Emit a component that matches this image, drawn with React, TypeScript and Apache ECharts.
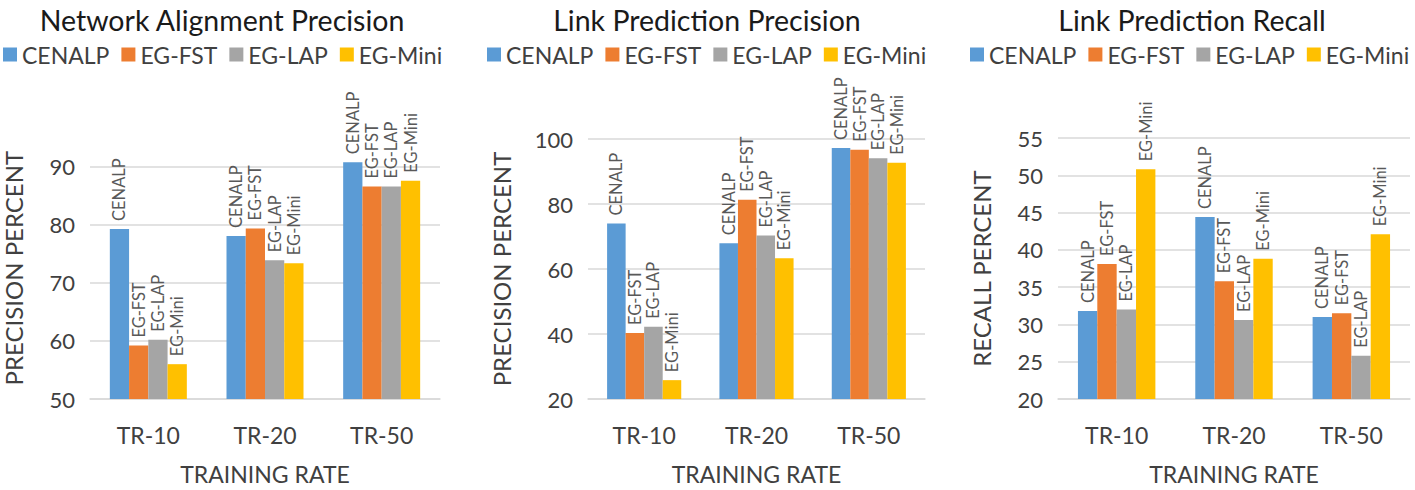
import React, { useEffect, useRef } from "react";
import * as echarts from "echarts";

const categories = ["TR-10", "TR-20", "TR-50"];
const seriesNames = ["CENALP", "EG-FST", "EG-LAP", "EG-Mini"];
const colors = ["#5B9BD5", "#ED7D31", "#A5A5A5", "#FFC000"];

const titles = ["Network Alignment Precision", "Link Prediction Precision", "Link Prediction Recall"];
const yNames = ["PRECISION PERCENT", "PRECISION PERCENT", "RECALL PERCENT"];
const xName = "TRAINING RATE";

// Network Alignment Precision
const alignCenalp = [79.3, 78.1, 90.8];
const alignFst = [59.2, 79.4, 86.6];
const alignLap = [60.2, 73.9, 86.6];
const alignMini = [56.0, 73.4, 87.6];

// Link Prediction Precision
const precCenalp = [74.0, 67.9, 97.2];
const precFst = [40.3, 81.3, 96.7];
const precLap = [42.2, 70.3, 94.1];
const precMini = [25.8, 63.3, 92.7];

// Link Prediction Recall
const recCenalp = [31.8, 44.4, 31.0];
const recFst = [38.1, 35.8, 31.5];
const recLap = [32.0, 30.6, 25.8];
const recMini = [50.8, 38.8, 42.1];

const panelData = [
  [alignCenalp, alignFst, alignLap, alignMini],
  [precCenalp, precFst, precLap, precMini],
  [recCenalp, recFst, recLap, recMini],
];

const yMin = [50, 20, 20];
const yMax = [92, 100, 55];
const yInterval = [10, 20, 5];

const FONT = "Lato, 'Open Sans', sans-serif";

export default function App() {
  const ref = useRef<HTMLDivElement>(null);

  useEffect(() => {
    document.body.style.margin = "0";
    if (!ref.current) return;
    const chart = echarts.init(ref.current, null, { renderer: "svg" });

    const grids = [
      { left: 90, top: 155.25, width: 350, height: 246.75 },
      { left: 588, top: 139, width: 337, height: 264 },
      { left: 1058, top: 138, width: 352, height: 263 },
    ];
    const titleX = [217, 702, 1187];
    const legendX = [3, 487, 970];
    const yNameGap = [65, 75, 65];
    const yNamePad = [
      [0, 0, 0, 18],
      [0, 0, 0, 0],
      [0, 0, 0, 0],
    ];
    const hideMax = [true, false, false];

    const series: any[] = [];
    panelData.forEach((vals, p) => {
      vals.forEach((d, i) => {
        series.push({
          type: "bar",
          name: seriesNames[i],
          xAxisIndex: p,
          yAxisIndex: p,
          data: d,
          barGap: "0%",
          barCategoryGap: "34%",
          itemStyle: { color: colors[i] },
          label: {
            show: true,
            formatter: seriesNames[i],
            position: "top",
            rotate: 90,
            align: "left",
            verticalAlign: "middle",
            distance: 8,
            fontSize: 16.5,
            fontFamily: FONT,
            color: "#595959",
          },
        });
      });
    });

    chart.setOption({
      animation: false,
      color: colors,
      title: titles.map((t, p) => ({
        text: t,
        left: titleX[p],
        top: 0,
        textAlign: "center",
        textStyle: { fontSize: 28.5, fontWeight: "normal", fontFamily: FONT, color: "#1a1a1a" },
      })),
      legend: titles.map((_, p) => ({
        data: seriesNames,
        left: legendX[p],
        top: 43,
        icon: "rect",
        itemWidth: 14,
        itemHeight: 14,
        itemGap: 12,
        padding: 0,
        textStyle: { fontSize: 23, fontFamily: FONT, color: "#404040" },
      })),
      grid: grids,
      xAxis: grids.map((_, p) => ({
        type: "category",
        gridIndex: p,
        data: categories,
        name: xName,
        nameLocation: "middle",
        nameGap: 63,
        nameTextStyle: { fontSize: 23, fontFamily: FONT, color: "#404040" },
        axisLine: { lineStyle: { color: "#D9D9D9", width: 1.5 } },
        axisTick: { show: false },
        axisLabel: { fontSize: 23, fontFamily: FONT, color: "#404040", margin: 24 },
      })),
      yAxis: grids.map((_, p) => ({
        type: "value",
        gridIndex: p,
        min: yMin[p],
        max: yMax[p],
        interval: yInterval[p],
        name: yNames[p],
        nameLocation: "middle",
        nameGap: yNameGap[p],
        nameTextStyle: { fontSize: 24, fontFamily: FONT, color: "#404040", padding: yNamePad[p] },
        axisLine: { show: false },
        axisTick: { show: false },
        splitLine: { showMaxLine: !hideMax[p], lineStyle: { color: "#D9D9D9", width: 1.5 } },
        axisLabel: { showMaxLabel: !hideMax[p], fontSize: 22, fontFamily: FONT, color: "#404040", margin: 15 },
      })),
      series,
    });

    return () => chart.dispose();
  }, []);

  return <div ref={ref} style={{ width: 1415, height: 490 }} />;
}
